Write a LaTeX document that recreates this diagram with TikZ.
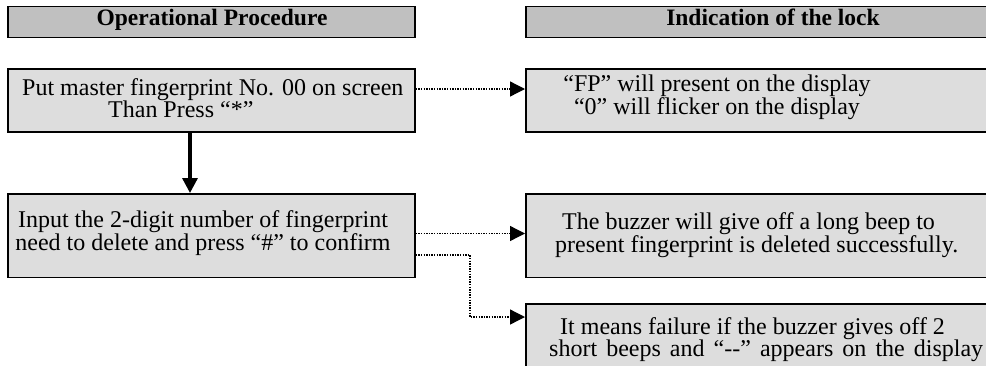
\documentclass[tikz,border=0pt]{standalone}
\usepackage{fontspec}
\setmainfont{Liberation Serif}
\usetikzlibrary{arrows.meta}
\definecolor{hdrgray}{HTML}{C0C0C0}
\definecolor{boxgray}{HTML}{DDDDDD}
\begin{document}
\begin{tikzpicture}[x=1pt,y=-1pt,
  hdr/.style={draw, fill=hdrgray, line width=1.8pt, anchor=north west, inner sep=0pt},
  panel/.style={draw, fill=boxgray, line width=1.8pt, anchor=north west, inner sep=0pt},
  txt/.style={font=\fontsize{24}{22}\selectfont, inner sep=0pt},
  htxt/.style={font=\fontsize{23.5}{22}\selectfont\bfseries, inner sep=0pt, anchor=base},
  conn/.style={line width=1.3pt, dash pattern=on 1.3pt off 1.3pt, -{Triangle[length=15pt,width=15pt]}},
  flow/.style={line width=3.3pt, -{Triangle[length=15pt,width=15pt]}}
]
\path[use as bounding box] (0,0) rectangle (986,365);
\clip (0,0) rectangle (986,365);

% headers
\node[hdr, minimum width=407pt, minimum height=31pt] (h1) at (7,5.5) {};
\node[hdr, minimum width=480pt, minimum height=31pt] (h2) at (525,5.5) {};
\node[htxt] (h1t) at (212,25) {Operational Procedure};
\node[htxt] (h2t) at (773,25) {Indication of the lock};

% boxes
\node[panel, minimum width=407pt, minimum height=63pt] (b1) at (7,68) {};
\node[panel, minimum width=480pt, minimum height=63pt] (b3) at (525,68) {};
\node[panel, minimum width=407pt, minimum height=83.5pt] (b2) at (7,193) {};
\node[panel, minimum width=480pt, minimum height=83.5pt] (b4) at (525,193) {};
\node[panel, minimum width=480pt, minimum height=80pt] (b5) at (525,303) {};

% texts
\node[txt, align=left, anchor=west] (b1t) at (22,98) {Put master fingerprint No. 00 on screen\\\hspace*{86pt}Than Press “*”};
\node[txt, align=center] (b3t) at (717,97.5) {“FP” will present on the display\\“0” will flicker on the display};
\node[txt, align=center] (b2t) at (203,233.5) {Input the 2-digit number of fingerprint\\need to delete and press “\#” to confirm};
\node[txt, align=left, anchor=west] (b4t) at (555,235) {\hspace*{7pt}The buzzer will give off a long beep to\\present fingerprint is deleted successfully.};
\node[txt, align=left, anchor=west] (b5t) at (549,339.5) {\hspace*{11pt}It means failure if the buzzer gives off 2\\\makebox[434pt][s]{short beeps and “-{}-” appears on the display}};

% connectors
\coordinate (ax) at (190,0);
\draw[flow] (b1.south -| ax) -- (b2.north -| ax);
\coordinate (lv1) at (0,89);
\draw[conn] (b1.east |- lv1) -- (b3.west |- lv1);
\coordinate (lv2) at (0,233.5);
\draw[conn] (b2.east |- lv2) -- (b4.west |- lv2);
\coordinate (bend) at (470,255);
\coordinate (lv3) at (0,317);
\draw[conn] (b2.east |- bend) -- (bend) |- (b5.west |- lv3);
\end{tikzpicture}
\end{document}
